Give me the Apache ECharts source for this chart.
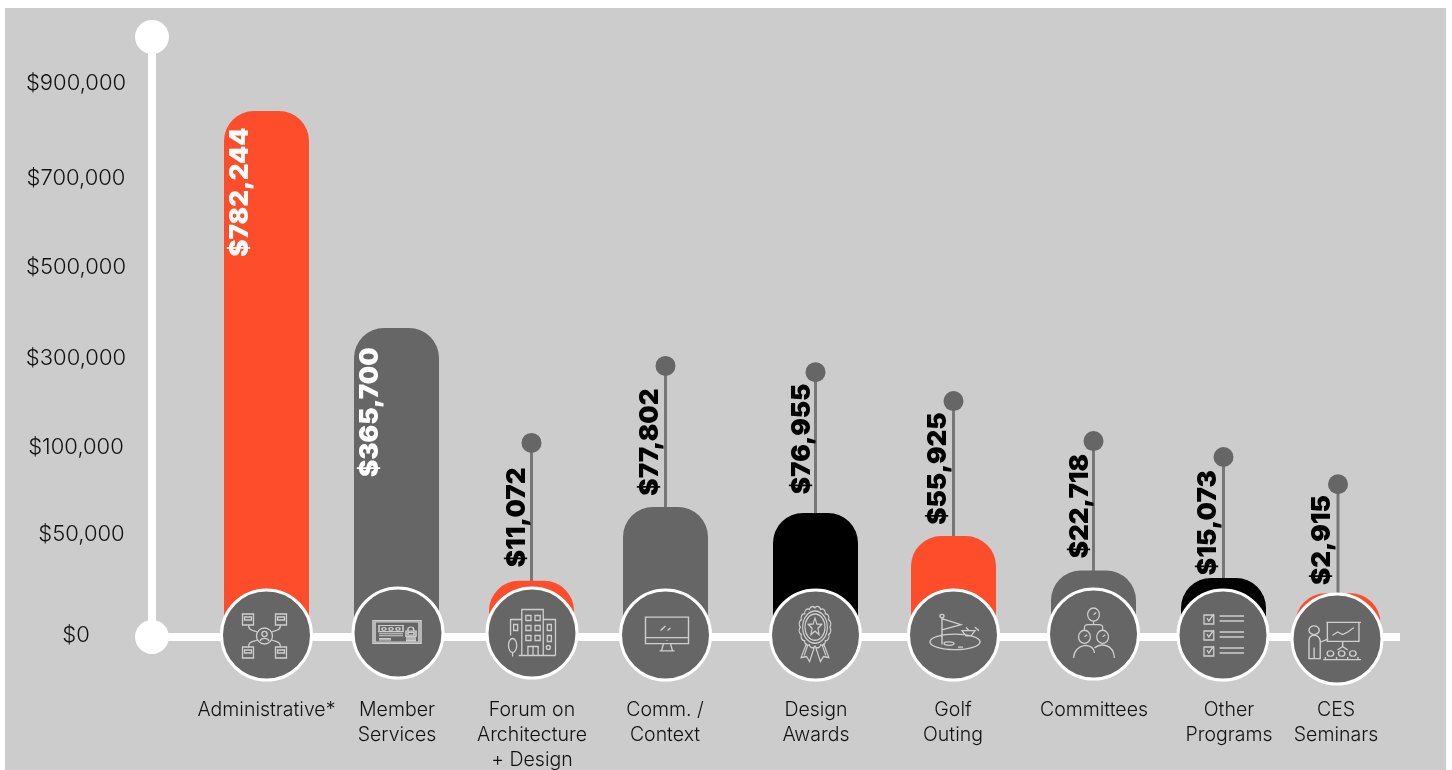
<!DOCTYPE html>
<html><head><meta charset="utf-8">
<style>html,body{margin:0;padding:0;background:#fff}#c{width:1452px;height:770px}</style>
<script src="https://cdn.jsdelivr.net/npm/echarts@6/dist/echarts.min.js"></script>
</head><body><div id="c"></div>
<script>
// ---- data ----
const categories = ['Administrative*','Member\nServices','Forum on\nArchitecture\n+ Design','Comm. /\nContext','Design\nAwards','Golf\nOuting','Committees','Other\nPrograms','CES\nSeminars'];
const printedValues = [782244,365700,11072,77802,76955,55925,22718,15073,2915];
// bar tops and pin heads as they stand against the printed axis
const barHeights = [839000,364000,27000,65000,61500,48500,32000,28400,21000];
const pinHeights = [null,null,107000,280000,266000,201000,111000,93700,78000];
const labelHeights = [666000,176000,59000,109000,116000,87000,65500,56000,46600];
const tickValues = [0,50000,100000,300000,500000,700000,900000];
// the printed axis is not linear: relative spacing of its ticks
const tickPositions = [0,104,191,280,371,460,555];
const slots = [114.5,244.5,379.5,513.5,663.5,801.5,941.5,1071.5,1186];
const labelSlots = [88,218,365,498,650,786,928,1056,1170];
const nameSlots = [114.5,245,380,513,664,801,942,1077,1184];
const barKinds = ['red','grey','red','grey','black','red','grey','black','red'];
const labelInk = ['#fff','#fff','#000','#000','#000','#000','#000','#000','#000'];

const palette = {red:'#fd4d2b',grey:'#666666',black:'#000000'};
const badgeShift = [[0,-2],[1.5,-4],[0.5,-4],[0,-2],[0,-2],[0,-2],[0,-3],[-0.5,-2],[-1,2]];
const iconShift = [[-2,-1],[0.5,-5],[0.5,-4],[1.5,-3],[-0.5,-3],[1.5,-5],[0.5,-4],[0.5,-2],[-3,4]];

function toAxis(v){
  for(let i=1;i<tickValues.length;i++){
    if(v<=tickValues[i]){
      const t=(v-tickValues[i-1])/(tickValues[i]-tickValues[i-1]);
      return tickPositions[i-1]+t*(tickPositions[i]-tickPositions[i-1]);
    }
  }
  return tickPositions[tickPositions.length-1];
}
const money = v => '$'+v.toLocaleString('en-US');

// ---- icon outlines ----
const circ=(x,y,r)=>`M${x+r} ${y}A${r} ${r} 0 1 1 ${x-r} ${y}A${r} ${r} 0 1 1 ${x+r} ${y}z`;
const ell=(x,y,a,b)=>`M${x+a} ${y}A${a} ${b} 0 1 1 ${x-a} ${y}A${a} ${b} 0 1 1 ${x+a} ${y}z`;
const box=(x,y,w,h)=>`M${x} ${y}h${w}v${h}h${-w}z`;
function scallop(cx,cy,r,n){
  let d='';
  for(let i=0;i<=n;i++){
    const a=i/n*Math.PI*2, px=(cx+r*Math.cos(a)).toFixed(1), py=(cy+r*Math.sin(a)).toFixed(1);
    d+= i===0?`M${px} ${py}`:`A4.3 4.3 0 0 1 ${px} ${py}`;
  }
  return d;
}
const iconPaths = [
 box(0,0,11,11)+box(33,0,11,11)+box(0,33,11,11)+box(33,33,11,11)+box(2,3,7,3)+box(35,3,7,3)+box(2,36,7,3)+box(35,36,7,3)
  +circ(22,22,8)+circ(22,20,2.6)+'M17.5 27c1-3.5 8-3.5 9 0M6 11C6 17 11 16 15 18M38 11C38 17 33 16 29 18M6 33C6 27 11 28 15 26M38 33C38 27 33 28 29 26',
 box(0,0,48,33)+box(2,2,44,29)+box(6,7,24,9)+circ(11,12,2)+circ(18,12,2)+circ(25,12,2)+'M6 19h24M6 22h24M6 26h12M6 28h12'
  +'M35 12a2.8 2.8 0 0 1 5.6 0v3h-5.6z'+box(33,15,10,8)+box(35,17,6,4)+'M33 25h10M33 27h10M33 29h10',
 'M14 46V0H35V46'+box(18,6,5,5)+box(27,6,5,5)+box(18,16,5,5)+box(27,16,5,5)+box(18,26,5,5)+box(27,26,5,5)+'M20 46V37H30V46M25 37V46'
  +'M14 10H3V26'+box(6,15,4,6)+box(39,15,4,6)+box(39,26,4,6)+'M35 10H47V46'+ell(5,36,4,7)+'M5 43v4M11 46H47'+circ(40,38,2),
 box(0,0,43,30)+'M0 23h43M21.5 26v1M14 38h15M18 30l-2 8M25 30l2 8M15 15l5-5M22 15l3-3',
 scallop(21,21,19,16)+circ(21,21,16)+circ(21,21,13)
  +'M21 12L23.4 17.8L29.6 18.2L24.8 22.2L26.3 28.3L21 25L15.7 28.3L17.2 22.2L12.4 18.2L18.6 17.8z'
  +'M10 37L3 51l7-1l4 5l6-14M32 37L39 51l-7-1l-4 5l-6-14M12 38l-5 11M30 38l5 11',
 circ(12,3,2)+'M12 5V36M12 6L31 13L12 19'+ell(25,33,25,9)+ell(19,35,5,2)+'M32 20l13 0l-4 6l-5 0zM45 16l4 4M36 16l3 4M28 39l5 0',
 circ(22,7,6.5)+circ(12,29,6.5)+circ(32,29,6.5)+'M22 13.5V17M12 22.5V20Q12 17 16 17H28Q32 17 32 20V22.5'
  +'M0 50C1 35 22 34 23 45M23 40C30 35 44 36 45 50M22 7l3-2M12 29l3-2M32 29l3-2',
 box(0,2,10,9)+box(0,18,10,9)+box(0,34,10,9)+'M3 5l2 3l5-7M3 21l2 3l5-7M3 37l2 3l5-7'
  +'M16 3h25M16 8h25M16 19h25M16 24h25M16 35h25M16 40h25',
 circ(6,10,5)+'M1 43V22Q1 16 6 16T12 22V43zM6 30V43M12 24L20 20M18 1H52M19 1V23H50V1M24 16l5-4l5 3l5-3l6-5M34 23V30M29 33L34 29L39 33'
  +circ(22,37,3.2)+circ(33,37,3.2)+circ(44,37,3.2)+'M15 44H52M17 44V41M28 44V41M39 44V41M49 44V41'
];
const iconSizes = [[44,44],[48,33],[48,47],[43,38],[42,55],[50,43],[45,50],[41,42],[52,44]];

const axisFont = 'Inter, "Noto Sans", sans-serif';
const tickText = {fontFamily:axisFont,fontSize:22,fontWeight:300,color:'#111111'};

const option = {
  animation:false,
  backgroundColor:'#fff',
  graphic:[{type:'rect',silent:true,z:-10,shape:{x:5,y:8,width:1441,height:762},style:{fill:'#cccccc'}}],
  grid:{left:152,right:52,top:37,bottom:133,containLabel:false},
  xAxis:{type:'value',min:0,max:1248,splitLine:{show:false},axisTick:{show:false},axisLabel:{show:false},
    axisLine:{show:true,onZero:false,lineStyle:{color:'#fff',width:8,cap:'butt'}}},
  yAxis:{type:'value',min:0,max:600,splitLine:{show:false},axisTick:{show:false},
    axisLine:{show:true,onZero:false,symbol:['circle','circle'],symbolSize:[34,34],lineStyle:{color:'#fff',width:8,cap:'butt'}},
    axisLabel:{customValues:tickValues.map(toAxis).map(p=>p===0?3:p),align:'center',margin:76,...tickText,padding:[2,0,0,0],
      rich:{a:{...tickText},b:{...tickText,padding:[0,0,0,11]}},
      formatter:p=>{const i=tickPositions.indexOf(p===3?0:p);if(i<0)return '';return (tickValues[i]===50000?'{b|':'{a|')+money(tickValues[i])+'}';}}},
  series:[
    {type:'custom',z:1,silent:true,
     data:pinHeights.map((h,i)=>h==null?null:[slots[i],toAxis(h)]).filter(Boolean),
     encode:{x:0,y:1},
     renderItem:(params,api)=>{
       const top=api.coord([api.value(0),api.value(1)]);
       const base=api.coord([api.value(0),0]);
       return {type:'group',children:[
         {type:'line',shape:{x1:top[0],y1:top[1],x2:base[0],y2:base[1]},style:{stroke:'#777777',lineWidth:3}},
         {type:'circle',shape:{cx:top[0],cy:top[1],r:10},style:{fill:'#666666'}}
       ]};
     }},
    {type:'bar',z:2,silent:true,barWidth:85,
     data:barHeights.map((h,i)=>({value:[slots[i],toAxis(h)],itemStyle:{color:palette[barKinds[i]],borderRadius:[30,30,0,0]}}))},
    {type:'scatter',z:4,silent:true,
     data:slots.map((s,i)=>({value:[s,0],symbolOffset:badgeShift[i]})),
     symbol:'circle',symbolSize:90,
     itemStyle:{color:'#666666',borderColor:'#fff',borderWidth:3,opacity:1}},
    {type:'scatter',z:5,silent:true,
     data:slots.map((s,i)=>({value:[s,0],symbol:'path://'+iconPaths[i],symbolSize:iconSizes[i],symbolOffset:iconShift[i]})),
     symbolKeepAspect:true,
     itemStyle:{color:'rgba(0,0,0,0)',borderColor:'#cfcfcf',borderWidth:1.3,opacity:1}},
    {type:'scatter',z:6,silent:true,symbolSize:1,
     itemStyle:{color:'rgba(0,0,0,0)',opacity:1},
     data:labelHeights.map((h,i)=>({value:[labelSlots[i],toAxis(h)],
       label:{show:true,position:'inside',rotate:90,align:'center',verticalAlign:'middle',
         formatter:money(printedValues[i]),color:labelInk[i],fontFamily:axisFont,fontWeight:900,fontSize:26}}))},
    {type:'scatter',z:6,silent:true,symbolSize:1,
     itemStyle:{color:'rgba(0,0,0,0)',opacity:1},
     data:categories.map((c,i)=>({value:[nameSlots[i],0],
       label:{show:true,position:'inside',align:'center',verticalAlign:'top',offset:[0,61],lineHeight:25,
         formatter:c,color:'#111111',fontFamily:axisFont,fontWeight:300,fontSize:19.5}}))}
  ]
};
echarts.init(document.getElementById('c'),null,{renderer:'canvas'}).setOption(option);
</script></body></html>
